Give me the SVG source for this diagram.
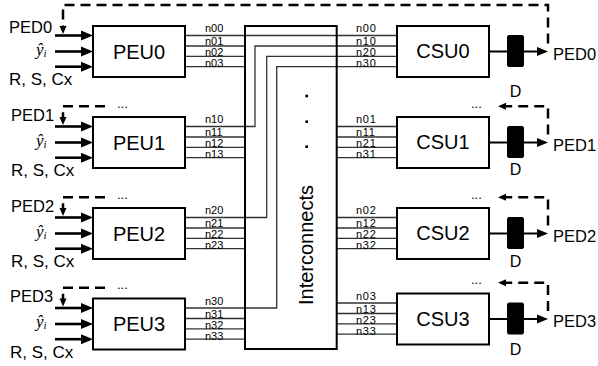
<svg xmlns="http://www.w3.org/2000/svg" width="598" height="366" viewBox="0 0 598 366">
<defs>
<style>
text{font-family:"Liberation Sans",Arial,sans-serif;fill:#000}
.box{fill:#fff;stroke:#000;stroke-width:2}
.big{font-size:20px;text-anchor:middle}
.ped{font-size:16.5px}
.rsc{font-size:17px}
.yh{font-family:"Liberation Serif","Times New Roman",serif;font-style:italic;font-size:17px}
.nl{font-size:11px}
.nr{font-size:11px;letter-spacing:0.7px}
.dl{font-size:16px;text-anchor:middle}
.dots{font-size:13px}
.w{fill:none;stroke:#333;stroke-width:1.3}
.in{fill:none;stroke:#000;stroke-width:2.6}
.out{fill:none;stroke:#000;stroke-width:2}
.ds{fill:none;stroke:#000;stroke-width:2.5;stroke-dasharray:10,6}
.reg{fill:#000;stroke:#000;stroke-width:1}
</style>
<marker id="ah" markerUnits="userSpaceOnUse" markerWidth="12" markerHeight="10" refX="4" refY="5" orient="auto" overflow="visible"><path d="M0,0 L12,5 L0,10 z" fill="#000" stroke="none"/></marker>
<marker id="am" markerUnits="userSpaceOnUse" markerWidth="11" markerHeight="9" refX="3" refY="4.5" orient="auto" overflow="visible"><path d="M0,0 L11,4.5 L0,9 z" fill="#000" stroke="none"/></marker>
<marker id="as" markerUnits="userSpaceOnUse" markerWidth="8" markerHeight="7" refX="2" refY="3.5" orient="auto" overflow="visible"><path d="M0,0 L8,3.5 L0,7 z" fill="#000" stroke="none"/></marker>
</defs>
<rect width="598" height="366" fill="#fff"/>

<g id="connectors">
<!-- interconnect wires -->
<path class="w" d="M185,35.5 H397"/>
<path class="w" d="M185,46 H245 M185,56.3 H245 M185,66.7 H245"/>
<path class="w" d="M185,126.5 H255 V46 H397"/>
<path class="w" d="M185,137 H245 M185,147.3 H245 M185,157.7 H245"/>
<path class="w" d="M185,217.5 H266.7 V56.3 H397"/>
<path class="w" d="M185,228 H245 M185,238.3 H245 M185,248.7 H245"/>
<path class="w" d="M185,308 H276.7 V66.7 H397"/>
<path class="w" d="M185,318.5 H245 M185,328.8 H245 M185,339.2 H245"/>
<path class="w" d="M336.7,126.5 H397 M336.7,137 H397 M336.7,147.3 H397 M336.7,157.7 H397"/>
<path class="w" d="M336.7,217.5 H397 M336.7,228 H397 M336.7,238.3 H397 M336.7,248.7 H397"/>
<path class="w" d="M336.7,303 H397 M336.7,313.5 H397 M336.7,323.8 H397 M336.7,334.2 H397"/>

<!-- PEU inputs -->
<path class="in" marker-end="url(#ah)" d="M55,35.5 H85"/>
<path class="in" marker-end="url(#ah)" d="M55,51.5 H85"/>
<path class="in" marker-end="url(#ah)" d="M55,66.7 H85"/>
<path class="in" marker-end="url(#ah)" d="M55,126.5 H85"/>
<path class="in" marker-end="url(#ah)" d="M55,142.5 H85"/>
<path class="in" marker-end="url(#ah)" d="M55,157.7 H85"/>
<path class="in" marker-end="url(#ah)" d="M55,217.5 H85"/>
<path class="in" marker-end="url(#ah)" d="M55,233.5 H85"/>
<path class="in" marker-end="url(#ah)" d="M55,248.7 H85"/>
<path class="in" marker-end="url(#ah)" d="M55,308 H85"/>
<path class="in" marker-end="url(#ah)" d="M55,324 H85"/>
<path class="in" marker-end="url(#ah)" d="M55,339.2 H85"/>

<!-- CSU to D to output -->
<path class="out" d="M489,51.5 H507"/>
<path class="out" marker-end="url(#am)" d="M524,51.5 H540"/>
<path class="out" d="M489,142.5 H507"/>
<path class="out" marker-end="url(#am)" d="M524,142.5 H540"/>
<path class="out" d="M489,233.5 H507"/>
<path class="out" marker-end="url(#am)" d="M524,233.5 H540"/>
<path class="out" d="M489,319 H507"/>
<path class="out" marker-end="url(#am)" d="M524,319 H540"/>

<!-- feedback dashed -->
<path class="ds" marker-end="url(#as)" d="M548,43.5 V5 H63 V28"/>
<path class="ds" marker-end="url(#as)" d="M548,134.5 V106.3 H504"/>
<path class="ds" marker-end="url(#as)" d="M548,225.5 V197.3 H504"/>
<path class="ds" marker-end="url(#as)" d="M548,311 V282.8 H504"/>
<path class="ds" marker-end="url(#as)" d="M105,106.3 H63 V119"/>
<path class="ds" marker-end="url(#as)" d="M105,197.3 H63 V210"/>
<path class="ds" marker-end="url(#as)" d="M105,287.8 H63 V300.5"/>
<text class="dots" x="117" y="107.5">...</text>
<text class="dots" x="117" y="198.5">...</text>
<text class="dots" x="117" y="289">...</text>
<text class="dots" x="471" y="107.5">...</text>
<text class="dots" x="471" y="198.5">...</text>
<text class="dots" x="471" y="284">...</text>

<!-- wire labels left -->
<text class="nl" x="205" y="32.3">n00</text>
<text class="nl" x="205" y="45">n01</text>
<text class="nl" x="205" y="56">n02</text>
<text class="nl" x="205" y="67.3">n03</text>
<text class="nl" x="205" y="123.3">n10</text>
<text class="nl" x="205" y="136">n11</text>
<text class="nl" x="205" y="147">n12</text>
<text class="nl" x="205" y="158.3">n13</text>
<text class="nl" x="205" y="214.3">n20</text>
<text class="nl" x="205" y="227">n21</text>
<text class="nl" x="205" y="238">n22</text>
<text class="nl" x="205" y="249.3">n23</text>
<text class="nl" x="205" y="304.8">n30</text>
<text class="nl" x="205" y="317.5">n31</text>
<text class="nl" x="205" y="328.5">n32</text>
<text class="nl" x="205" y="339.8">n33</text>
<!-- wire labels right -->
<text class="nr" x="356" y="32.3">n00</text>
<text class="nr" x="356" y="45">n10</text>
<text class="nr" x="356" y="56">n20</text>
<text class="nr" x="356" y="67.3">n30</text>
<text class="nr" x="356" y="123.3">n01</text>
<text class="nr" x="356" y="136">n11</text>
<text class="nr" x="356" y="147">n21</text>
<text class="nr" x="356" y="158.3">n31</text>
<text class="nr" x="356" y="214.3">n02</text>
<text class="nr" x="356" y="227">n12</text>
<text class="nr" x="356" y="238">n22</text>
<text class="nr" x="356" y="249.3">n32</text>
<text class="nr" x="356" y="299.8">n03</text>
<text class="nr" x="356" y="312.5">n13</text>
<text class="nr" x="356" y="323.5">n23</text>
<text class="nr" x="356" y="334.8">n33</text>
</g>

<g id="inputs">
<text class="ped" x="9" y="33.3">PED0</text>
<text class="yh" x="36" y="54.5">ŷ<tspan font-size="11" dy="2">i</tspan></text>
<text class="rsc" x="9" y="84.5">R, S, Cx</text>
<text class="ped" x="11" y="120.5">PED1</text>
<text class="yh" x="36" y="145.5">ŷ<tspan font-size="11" dy="2">i</tspan></text>
<text class="rsc" x="11" y="175.5">R, S, Cx</text>
<text class="ped" x="11" y="211.5">PED2</text>
<text class="yh" x="36" y="236.5">ŷ<tspan font-size="11" dy="2">i</tspan></text>
<text class="rsc" x="11" y="266.5">R, S, Cx</text>
<text class="ped" x="10" y="302">PED3</text>
<text class="yh" x="36" y="327">ŷ<tspan font-size="11" dy="2">i</tspan></text>
<text class="rsc" x="10" y="357.5">R, S, Cx</text>
</g>

<g id="peu0"><rect class="box" x="93" y="26" width="92" height="51"/><text class="big" x="139" y="58.5">PEU0</text></g>
<g id="peu1"><rect class="box" x="93" y="117" width="92" height="51"/><text class="big" x="139" y="149.5">PEU1</text></g>
<g id="peu2"><rect class="box" x="93" y="208" width="92" height="51"/><text class="big" x="139" y="240.5">PEU2</text></g>
<g id="peu3"><rect class="box" x="93" y="298.5" width="92" height="51"/><text class="big" x="139" y="331">PEU3</text></g>

<g id="interconnects">
<rect x="245" y="26" width="91.7" height="323" fill="none" stroke="#000" stroke-width="2"/>
<rect x="305.4" y="94.7" width="2.6" height="2.6" fill="#000"/>
<rect x="305.4" y="120.4" width="2.6" height="2.6" fill="#000"/>
<rect x="305.4" y="145.4" width="2.6" height="2.6" fill="#000"/>
<text transform="translate(313,245) rotate(-90)" x="0" y="0" style="font-size:20px;text-anchor:middle">Interconnects</text>
</g>

<g id="csu0"><rect class="box" x="397" y="26" width="92" height="51"/><text class="big" x="443" y="58">CSU0</text></g>
<g id="csu1"><rect class="box" x="397" y="117" width="92" height="51"/><text class="big" x="443" y="149">CSU1</text></g>
<g id="csu2"><rect class="box" x="397" y="208" width="92" height="51"/><text class="big" x="443" y="240">CSU2</text></g>
<g id="csu3"><rect class="box" x="397" y="293.5" width="92" height="51"/><text class="big" x="443" y="325.5">CSU3</text></g>

<g id="d0"><rect class="reg" x="507.5" y="35.5" width="16" height="31" rx="1.5"/><text class="dl" x="515.5" y="96.7">D</text><text class="ped" x="553" y="59.5">PED0</text></g>
<g id="d1"><rect class="reg" x="507.5" y="126.5" width="16" height="31" rx="1.5"/><text class="dl" x="515.5" y="175">D</text><text class="ped" x="553" y="150.5">PED1</text></g>
<g id="d2"><rect class="reg" x="507.5" y="217.5" width="16" height="31" rx="1.5"/><text class="dl" x="515.5" y="267.3">D</text><text class="ped" x="553" y="241.5">PED2</text></g>
<g id="d3"><rect class="reg" x="507.5" y="303" width="16" height="31" rx="1.5"/><text class="dl" x="515.5" y="355">D</text><text class="ped" x="553" y="327">PED3</text></g>
</svg>
